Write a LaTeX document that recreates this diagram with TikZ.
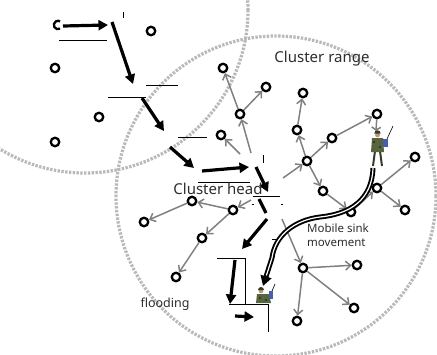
\documentclass[tikz,border=0pt]{standalone}
\usepackage{fontspec}
\setmainfont{Noto Sans}
\usetikzlibrary{arrows.meta}
\definecolor{rangegray}{RGB}{185,185,185}
\definecolor{linkgray}{RGB}{128,128,128}
\definecolor{txtgray}{RGB}{45,45,45}
\definecolor{camo}{RGB}{88,100,62}
\definecolor{camodark}{RGB}{52,60,38}
\definecolor{skin}{RGB}{190,150,110}
\definecolor{radio}{RGB}{70,95,170}
\tikzset{
  sn/.style={circle,draw=black,line width=2.3pt,fill=white,minimum size=8.5pt,inner sep=0pt},
  glink/.style={draw=linkgray,line width=1.5pt,-{Straight Barb[length=5pt,width=9pt,line width=1.5pt]}},
  hop/.style={line width=3.2pt,-{Triangle[length=9.5pt,width=10pt]}},
  artline/.style={line width=0.9pt},
  rangering/.style={draw=rangegray,line width=3.2pt,dash pattern=on 2.4pt off 1.4pt},
  lbl/.style={text=txtgray,inner sep=0pt}
}
\begin{document}
\begin{tikzpicture}[x=1pt,y=-1pt]
\useasboundingbox (0,0) rectangle (437,354);

% cluster ranges
\draw[rangering] (85,10) circle[radius=163];
\draw[rangering] (276,196) circle[radius=160];

% upper-left cluster members
\node[sn] (L1) at (151,31) {};
\node[sn] (L2) at (55,68) {};
\node[sn] (L3) at (99,117) {};
\node[sn] (L4) at (55,142) {};
\coordinate (L0) at (58,25);
\draw[line width=2.3pt] ([shift={(60:4.2)}]L0) arc[start angle=60,end angle=300,radius=4.2];

% main cluster members
\node[sn] (n1) at (223,68) {};
\node[sn] (n2) at (266,87) {};
\node[sn] (n3) at (240,114) {};
\node[sn] (n4) at (221,135) {};
\node[sn] (n5) at (303,93) {};
\node[sn] (n6) at (297,130) {};
\node[sn] (n7) at (332,138) {};
\node[sn] (n8) at (307,161) {};
\node[sn] (n9) at (377,114) {};
\node[sn] (n10) at (415,157) {};
\node[sn] (n12) at (323,191) {};
\node[sn] (n13) at (351,212) {};
\node[sn] (n14) at (377,188) {};
\node[sn] (n16) at (405,210) {};
\node[sn] (n17) at (303,268) {};
\node[sn] (n18) at (357,265) {};
\node[sn] (n19) at (354,308) {};
\node[sn] (n20) at (297,321) {};
\node[sn] (n21) at (192,201) {};
\node[sn] (n22) at (233,210) {};
\node[sn] (n23) at (144,222) {};
\node[sn] (n24) at (202,238) {};
\node[sn] (n25) at (176,277) {};

% starting points of the tree links near the cluster head
\coordinate (hA) at (240,154);
\coordinate (hB) at (251,153);
\coordinate (hC) at (283,178);
\coordinate (hD) at (282,219);
\coordinate (hE) at (251,200);
\coordinate (sinkA) at (376,131);

\draw[glink] (hA) -- (n4);
\draw[glink] (hB) -- (n3);
\draw[glink] (n3) -- (n1);
\draw[glink] (n3) -- (n2);
\draw[glink] (hC) -- (n8);
\draw[glink] (n8) -- (n6);
\draw[glink] (n6) -- (n5);
\draw[glink] (n8) -- (n7);
\draw[glink] (n7) -- (n9);
\draw[draw=linkgray,line width=1.5pt,-{Straight Barb[length=3pt,width=9pt,line width=1.5pt]}] (n9) -- (sinkA);
\draw[glink] (n8) -- (n12);
\draw[glink] (n12) -- (n13);
\draw[glink] (n13) -- (n14);
\draw[glink] (n14) -- (n10);
\draw[glink] (n14) -- (n16);
\draw[glink] (hD) -- (n17);
\draw[glink] (n17) -- (n18);
\draw[glink] (n17) -- (n19);
\draw[glink] (n17) -- (n20);
\draw[glink] (hE) -- (n22);
\draw[glink] (n22) -- (n21);
\draw[glink] (n21) -- (n23);
\draw[glink] (n22) -- (n24);
\draw[glink] (n24) -- (n25);

% flooding hops
\coordinate (b1s) at (63,26);   \coordinate (b1e) at (108,25);
\coordinate (b2s) at (112,22);  \coordinate (b2e) at (133,84);
\coordinate (b3s) at (142,98);  \coordinate (b3e) at (164,131);
\coordinate (b4s) at (170,147); \coordinate (b4e) at (194,168);
\coordinate (b5s) at (202,171); \coordinate (b5e) at (249,167);
\coordinate (b6s) at (256,167); \coordinate (b6e) at (268,192);
\coordinate (b7s) at (267,219); \coordinate (b7e) at (242,249);
\coordinate (b8s) at (235,260); \coordinate (b8e) at (230,304);
\coordinate (b9s) at (235,316); \coordinate (b9e) at (254,317);
\coordinate (bxs) at (259,199); \coordinate (bxe) at (266,213);
\draw[hop] (b1s) -- (b1e);
\draw[hop] (b2s) -- (b2e);
\draw[hop] (b3s) -- (b3e);
\draw[hop] (b4s) -- (b4e);
\draw[hop] (b5s) -- (b5e);
\draw[hop] (b6s) -- (b6e);
\draw[line width=3.2pt] (bxs) -- (bxe);
\draw[hop] (b7s) -- (b7e);
\draw[hop] (b8s) -- (b8e);
\draw[hop] (b9s) -- (b9e);

% thin guide strokes
\draw[artline] (59,40) -- (107,40);
\draw[artline] (123,12) -- (123,18);
\draw[artline] (108,97) -- (146,97);
\draw[artline] (146,85) -- (178,85);
\draw[artline] (178,137) -- (207,137);
\draw[artline] (263,155) -- (263,163);
\draw[artline] (198,182) -- (250,182);
\draw[artline] (253,196) -- (280,196);
\draw[artline] (272,239) -- (281,239);
\draw[artline] (252,204) -- (254,204);
\draw[artline] (281,204) -- (283,204);
\draw[artline] (217,258) -- (245,258) -- (245,304);
\draw[artline] (229,304) -- (268,304) -- (268,332);

% mobile sink path
\coordinate (mA) at (373,168);
\coordinate (mB) at (320,217);
\coordinate (mC) at (272,258);
\coordinate (mD) at (263,286);
\draw[line width=5pt,-{Triangle[length=10pt,width=11pt]}]
  (mA) .. controls (372,200) and (350,214) .. (mB)
       .. controls (295,220) and (275,235) .. (mC) -- (mD);
\draw[white,line width=1.2pt,shorten >=11pt]
  (mA) .. controls (372,200) and (350,214) .. (mB)
       .. controls (295,220) and (275,235) .. (mC) -- (mD);

% upper mobile sink (soldier with radio)
\draw[camodark,line width=2pt] (375,151) -- (373,166);
\draw[camodark,line width=2pt] (380,151) -- (382,166);
\fill[camo] (372,138) -- (383,138) -- (384,152) -- (371,152) -- cycle;
\fill[camodark] (374,142) circle[radius=1.3] (380,147) circle[radius=1.3];
\fill[skin] (377.5,135) circle[radius=2.4];
\fill[camodark] (374.3,133.5) arc[start angle=180,end angle=360,radius=3.2] -- cycle;
\draw[black,line width=0.6pt] (387,139) -- (393,126);
\fill[radio] (383,139) rectangle (388,147);

% lower mobile sink (soldier with radio)
\fill[camo] (257,294) -- (269,294) -- (271,303) -- (256,303) -- cycle;
\fill[camodark] (260,298) circle[radius=1.3] (266,300) circle[radius=1.3];
\fill[skin] (261,291) circle[radius=2.3];
\fill[camodark] (258,290) arc[start angle=180,end angle=360,radius=3] -- cycle;
\draw[black,line width=0.6pt] (272,291) -- (275,284);
\fill[radio] (269,291) rectangle (273,299);

% labels
\node[lbl,font=\fontsize{15}{17}\selectfont] (tRange) at (322,59) {Cluster range};
\node[lbl,font=\fontsize{15}{17}\selectfont] (tHead) at (218,189) {Cluster head};
\node[lbl,font=\fontsize{11.5}{13.5}\selectfont,align=left,anchor=north west] (tSink) at (307,224) {Mobile sink\\movement};
\node[lbl,font=\fontsize{12.5}{14}\selectfont] (tFlood) at (165,304) {flooding};
\end{tikzpicture}
\end{document}
